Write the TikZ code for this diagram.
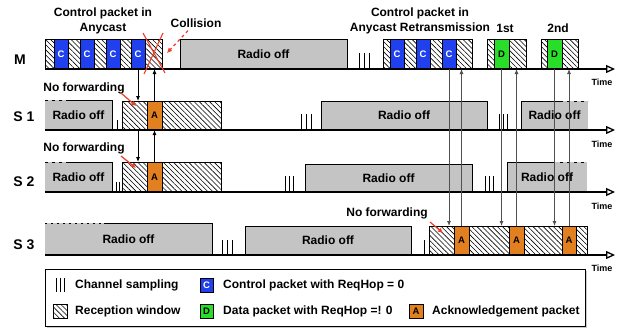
\documentclass[tikz,border=0pt]{standalone}
\usepackage{fontspec}
\setmainfont{Liberation Sans}
\usetikzlibrary{arrows.meta,patterns.meta,shadows,calc}

\definecolor{offgray}{RGB}{196,196,196}
\definecolor{ctrlblue}{RGB}{32,64,238}
\definecolor{datagreen}{RGB}{40,222,40}
\definecolor{ackorange}{RGB}{226,128,32}
\definecolor{siggray}{RGB}{80,80,80}
\definecolor{alertred}{RGB}{240,60,40}

\tikzset{
  txt/.style={font=\bfseries\fontsize{12}{15}\selectfont,inner sep=1pt},
  rowlbl/.style={font=\bfseries\fontsize{14}{16}\selectfont,inner sep=0pt},
  timelbl/.style={font=\bfseries\fontsize{9}{10}\selectfont,inner sep=0pt},
  blk/.style 2 args={anchor=south west,inner sep=0pt,outer sep=0pt,minimum width=#1pt,minimum height=#2pt},
  radiooff/.style={txt,fill=offgray,draw=black,line width=0.9pt},
  offfill/.style={txt,fill=offgray,draw=none},
  edge/.style={draw=black,line width=0.9pt},
  dashtop/.style={edge,dash pattern=on 3pt off 4pt},
  dottop/.style={edge,dash pattern=on 1.5pt off 4.5pt},
  rxwin/.style={draw=black,line width=0.9pt,pattern={Lines[angle=-45,distance=3.6pt,line width=0.6pt]}},
  pktlbl/.style={font=\bfseries\fontsize{9.5}{10}\selectfont,draw=black,line width=0.8pt},
  ctrlpkt/.style={pktlbl,fill=ctrlblue,text=white},
  datapkt/.style={pktlbl,fill=datagreen,text=black},
  ackpkt/.style={pktlbl,fill=ackorange,text=black},
  sampletick/.style={draw=black,line width=1pt},
  timeaxis/.style={draw=black,line width=1.5pt,-{Triangle[open,length=9pt,width=8pt,line width=1.3pt]}},
  sig/.style={draw=black,line width=0.8pt,-{Latex[length=5pt,width=4pt]}},
  siglong/.style={draw=siggray,line width=0.8pt,-{Latex[length=5pt,width=4pt]}},
  redarr/.style={draw=alertred,line width=1.2pt,-{Latex[length=5pt,width=5pt]}}
}

\begin{document}
\begin{tikzpicture}[x=1pt,y=-1pt]
\useasboundingbox (0,0) rectangle (617,330);

% row labels
\node[rowlbl] (mlab) at (20,60) {M};
\node[rowlbl] (s1lab) at (24,117) {S 1};
\node[rowlbl] (s2lab) at (24,182) {S 2};
\node[rowlbl] (s3lab) at (24,245) {S 3};

% ---- M ----
\node[rxwin,blk={117}{30}] (mwin) at (45,69) {};
\foreach \x [count=\i] in {54,80,106,131}
  \node[ctrlpkt,blk={14}{30}] (mc\i) at (\x,69) {C};
\node[radiooff,blk={167}{30}] (moff) at (180,69) {Radio off};
\foreach \x in {359,364,369} \draw[sampletick] (\x,69) -- ++(0,-16);
\node[rxwin,blk={89}{30}] (rwin) at (383,69) {};
\foreach \x [count=\i] in {390,416,442}
  \node[ctrlpkt,blk={14}{30}] (rc\i) at (\x,69) {C};
\node[rxwin,blk={39}{30}] (dwin1) at (487,69) {};
\node[datapkt,blk={15}{30}] (d1) at (494,69) {D};
\node[rxwin,blk={37}{30}] (dwin2) at (541,69) {};
\node[datapkt,blk={15}{30}] (d2) at (547,69) {D};

% ---- S 1 ----
\node[offfill,blk={67}{30}] (s1offa) at (45,130) {Radio off};
\draw[edge] ($(s1offa.north west)+(21,0)$) -- (s1offa.north east) -- (s1offa.south east);
\draw[dashtop] (s1offa.north west) -- ++(21,0);
\draw[sampletick] (117,130) -- ++(0,-10);
\node[rxwin,blk={99}{29}] (s1win) at (122,130) {};
\node[ackpkt,blk={15}{29}] (s1ack) at (147,130) {A};
\foreach \x in {301,306,311} \draw[sampletick] (\x,130) -- ++(0,-16);
\node[radiooff,blk={166}{29}] (s1offb) at (321,130) {Radio off};
\foreach \x in {499,503,507} \draw[sampletick] (\x,130) -- ++(0,-16);
\node[offfill,blk={67}{29}] (s1offc) at (521,130) {Radio off};
\draw[edge] (s1offc.south west) -- (s1offc.north west) -- ++(42,0);
\draw[dashtop] ($(s1offc.north west)+(46,0)$) -- (s1offc.north east);

% ---- S 2 ----
\node[offfill,blk={67}{30}] (s2offa) at (45,192) {Radio off};
\draw[edge] ($(s2offa.north west)+(21,0)$) -- (s2offa.north east) -- (s2offa.south east);
\draw[dashtop] (s2offa.north west) -- ++(21,0);
\foreach \x in {116,119} \draw[sampletick] (\x,192) -- ++(0,-10);
\node[rxwin,blk={99}{30}] (s2win) at (122,192) {};
\node[ackpkt,blk={15}{30}] (s2ack) at (147,192) {A};
\foreach \x in {285,289,293} \draw[sampletick] (\x,192) -- ++(0,-16);
\node[radiooff,blk={167}{28}] (s2offb) at (305,192) {Radio off};
\foreach \x in {485,489,493} \draw[sampletick] (\x,192) -- ++(0,-16);
\node[offfill,blk={80}{30}] (s2offc) at (507,192) {Radio off};
\draw[edge] (s2offc.south west) -- (s2offc.north west) -- ++(48,0);
\draw[dashtop] ($(s2offc.north west)+(53,0)$) -- (s2offc.north east);

% ---- S 3 ----
\node[offfill,blk={167}{32}] (s3offa) at (45,255) {Radio off};
\draw[edge] ($(s3offa.north west)+(59,0)$) -- (s3offa.north east) -- (s3offa.south east);
\draw[dottop] (s3offa.north west) -- ++(59,0);
\foreach \x in {222,227,232} \draw[sampletick] (\x,255) -- ++(0,-15);
\node[radiooff,blk={166}{29}] (s3offb) at (245,255) {Radio off};
\draw[sampletick] (424,255) -- ++(0,-15);
\node[rxwin,blk={158}{29}] (s3win) at (429,255) {};
\foreach \x/\w [count=\i] in {454/15,509/15,562/14}
  \node[ackpkt,blk={\w}{29}] (s3ack\i) at (\x,255) {A};

% time axes
\foreach \r/\y/\t in {m/69/82,s1/130/144,s2/192/206,s3/255/268} {
  \coordinate (\r0) at (45,\y);
  \coordinate (\r1) at (615,\y);
  \draw[timeaxis] (\r0) -- (\r1);
  \node[timelbl] (\r time) at (602,\t) {Time};
}

% messages M -> S1 -> S2
\path ($(s1win.north west)+(16,0)$) coordinate (fw1);
\draw[sig] (mwin.south -| fw1) -- (fw1);
\draw[sig] (s1ack.north) -- (s1ack.north |- mwin.south);
\draw[sig] (s1win.south -| fw1) -- (s2win.north -| fw1);
\draw[sig] (s2ack.north) -- (s2ack.north |- s1win.south);

% messages M <-> S3
\draw[siglong] (rc3.south) -- (rc3.south |- s3win.north);
\draw[siglong] (s3ack1.north) -- (s3ack1.north |- rwin.south);
\draw[siglong] (d1.south) -- (d1.south |- s3win.north);
\draw[siglong] (s3ack2.north) -- (s3ack2.north |- dwin1.south);
\draw[siglong] (d2.south) -- (d2.south |- s3win.north);
\draw[siglong] (s3ack3.north) -- (s3ack3.north |- dwin2.south);

% annotations
\node[txt,align=center] (anyc) at (103,21) {Control packet in\\Anycast};
\node[txt,align=center] (anyre) at (420,21) {Control packet in\\Anycast Retransmission};
\node[txt] (first) at (505,28) {1st};
\node[txt] (second) at (558,28) {2nd};
\node[txt] (coll) at (196,23) {Collision};
\draw[draw=alertred,line width=1.1pt] (143,33) -- (165,73) (163,33) -- (144,74);
\draw[redarr,dashed] ($(coll.south)+(-8,2)$) -- ($(mwin.north east)+(5,14)$);

\node[txt] (nf1) at (84,88) {No forwarding};
\draw[redarr] ($(s1win.north west)+(-1,-8)$) -- ($(s1win.north west)+(14,5)$);
\node[txt] (nf2) at (84,148) {No forwarding};
\draw[redarr] ($(s2win.north west)+(-1,-6)$) -- ($(s2win.north west)+(14,6)$);
\node[txt] (nf3) at (387,213) {No forwarding};
\draw[redarr] ($(s3win.north west)+(1,-4)$) -- ($(s3win.north west)+(14,7)$);

% legend
\node[draw=black,line width=0.8pt,fill=white,drop shadow={shadow xshift=2pt,shadow yshift=-2pt,opacity=0.4},blk={540}{57}] (legend) at (45,326) {};
\foreach \x in {56,60,64} \draw[sampletick] (\x,292) -- ++(0,-14);
\node[txt,anchor=west] (legsamp) at (74,285) {Channel sampling};
\node[ctrlpkt,blk={13}{14}] (legc) at (200,292) {C};
\node[txt,anchor=west] (legctrl) at (222,285) {Control packet with ReqHop = 0};
\node[rxwin,blk={14}{14}] (legrx) at (53,318) {};
\node[txt,anchor=west] (legwin) at (74,311) {Reception window};
\node[datapkt,blk={13}{14}] (legd) at (200,318) {D};
\node[txt,anchor=west] (legdata) at (222,311) {Data packet with ReqHop =! 0};
\node[ackpkt,blk={14}{14}] (lega) at (409,318) {A};
\node[txt,anchor=west] (legack) at (431,311) {Acknowledgement packet};
\end{tikzpicture}
\end{document}
